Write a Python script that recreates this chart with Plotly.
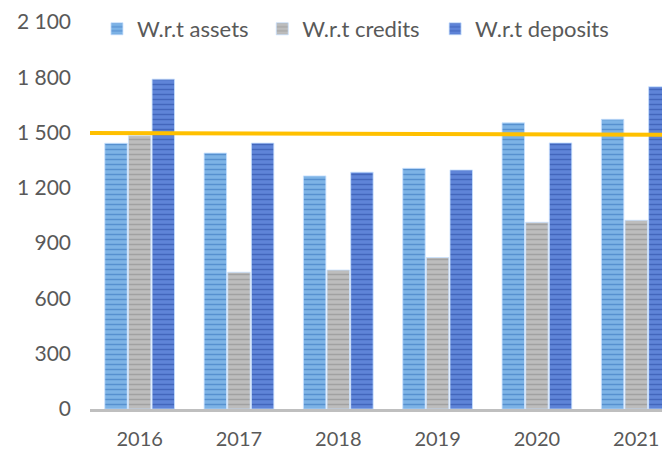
import plotly.graph_objects as go

years = ["2016", "2017", "2018", "2019", "2020", "2021"]
assets = [1442, 1389, 1265, 1306, 1553, 1572]
credits = [1483, 742, 754, 822, 1013, 1024]
deposits = [1790, 1443, 1285, 1297, 1444, 1749]
benchmark = [1497, 1488]
y_ticks = [0, 300, 600, 900, 1200, 1500, 1800, 2100]

xpos = list(range(len(years)))
x_range = [-0.5, 5.34]

fig = go.Figure()

series = [
    ("W.r.t assets", assets, "#7db3e6", "#4c87c9", "legend"),
    ("W.r.t credits", credits, "#bdbdbd", "#9a9a9a", "legend2"),
    ("W.r.t deposits", deposits, "#5f84d8", "#3b5fb5", "legend3"),
]
for name, vals, col, stripe, lg in series:
    fig.add_trace(go.Bar(
        x=xpos, y=vals, name=name, legend=lg,
        marker=dict(color=col,
                    line=dict(color="rgba(200,225,255,0.8)", width=1),
                    pattern=dict(shape="-", fgcolor=stripe, size=5, solidity=0.3, fgopacity=0.8)),
    ))

fig.add_trace(go.Scatter(
    x=x_range, y=benchmark, mode="lines",
    line=dict(color="#ffc000", width=4), showlegend=False, hoverinfo="skip",
))

legend_style = dict(orientation="h", xanchor="left", y=0.983, yanchor="middle",
                    font=dict(size=22, color="#595959"), itemwidth=30,
                    bgcolor="rgba(0,0,0,0)")

# The page body adds an 8px offset, so the figure is sized to fill the rest of the window.
fig.update_layout(
    width=662, height=442,
    margin=dict(l=82, r=0, t=14, b=41),
    paper_bgcolor="white", plot_bgcolor="white",
    barmode="group", bargap=0.286, bargroupgap=0.05,
    separators=". ",
    font=dict(family="Lato, Calibri, sans-serif", size=21, color="#595959"),
    legend=dict(x=0.012, **legend_style),
    legend2=dict(x=0.297, **legend_style),
    legend3=dict(x=0.595, **legend_style),
    xaxis=dict(range=x_range, tickmode="array", tickvals=xpos, ticktext=years,
               showgrid=False, zeroline=False, showline=True, linecolor="#bfbfbf",
               linewidth=3, ticks="", ticklabelstandoff=10, automargin=False,
               tickfont=dict(size=20), fixedrange=True),
    yaxis=dict(range=[0, 2100], tickmode="array", tickvals=y_ticks, tickformat=",",
               showgrid=False, zeroline=False, showline=False, ticks="",
               ticklabelstandoff=18, automargin=False),
)

fig.write_html("out.html")
